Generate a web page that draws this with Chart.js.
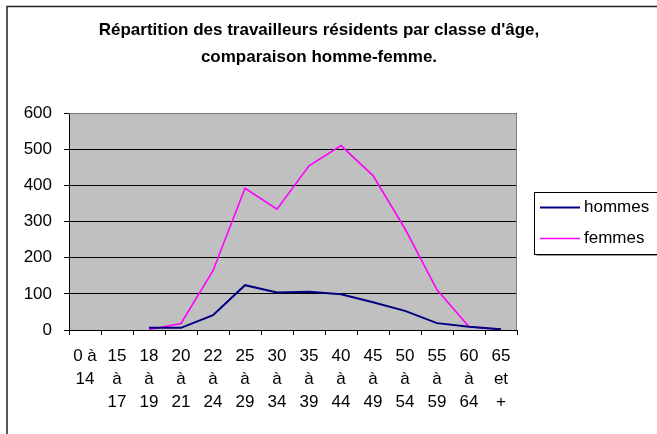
<!DOCTYPE html>
<html><head><meta charset="utf-8">
<script src="https://cdn.jsdelivr.net/npm/chart.js@4.4.1/dist/chart.umd.min.js"></script>
<style>html,body{margin:0;padding:0;background:#fff;}#wrap{width:657px;height:434px;}</style>
</head><body><div id="wrap"><canvas id="c" width="657" height="434"></canvas></div>
<script>
const categories = [["0 à","14"],["15","à","17"],["18","à","19"],["20","à","21"],["22","à","24"],["25","à","29"],["30","à","34"],["35","à","39"],["40","à","44"],["45","à","49"],["50","à","54"],["55","à","59"],["60","à","64"],["65","et","+"]];
const hommes = [null,null,6,6,41,124,104,106,99,77,53,19,9,2];
const femmes = [null,null,1,18,164,392,334,454,510,427,280,111,9,1];
const seriesNames = ["hommes","femmes"];
const seriesColors = ["#000080","#FF00FF"];
const yMin = 0, yMax = 600, yStep = 100;
const titleLines = ["Répartition des travailleurs résidents par classe d'âge,","comparaison homme-femme."];

const FONT = "'Liberation Sans', Arial, sans-serif";

const decorPlugin = {
  id: 'decor',
  beforeDraw(chart) {
    const {ctx, chartArea: a} = chart;
    ctx.save();
    ctx.fillStyle = '#fff';
    ctx.fillRect(0, 0, chart.width, chart.height);
    ctx.fillStyle = '#C0C0C0';
    ctx.fillRect(a.left, a.top, a.right - a.left, a.bottom - a.top);
    ctx.strokeStyle = '#222';
    ctx.lineWidth = 1.5;
    ctx.beginPath();
    ctx.moveTo(7, chart.height);
    ctx.lineTo(7, 6.5);
    ctx.lineTo(chart.width, 6.5);
    ctx.stroke();
    ctx.restore();
  },
  beforeDatasetsDraw(chart) {
    const {ctx, chartArea: a} = chart;
    ctx.save();
    ctx.strokeStyle = '#808080';
    ctx.lineWidth = 1;
    ctx.beginPath();
    ctx.moveTo(a.left, a.top + 0.5);
    ctx.lineTo(a.right - 0.5, a.top + 0.5);
    ctx.lineTo(a.right - 0.5, a.bottom);
    ctx.stroke();
    ctx.restore();
  },
  afterDraw(chart) {
    const ctx = chart.ctx;
    const left = 534.5, top = 192.5, h = 62;
    ctx.save();
    ctx.fillStyle = '#fff';
    ctx.fillRect(left, top, chart.width - left + 5, h);
    ctx.strokeStyle = '#000';
    ctx.lineWidth = 1;
    ctx.strokeRect(left, top, chart.width - left + 5, h);
    ctx.strokeStyle = '#999';
    ctx.beginPath();
    ctx.moveTo(left + 2, top + h + 1);
    ctx.lineTo(chart.width, top + h + 1);
    ctx.stroke();
    ctx.font = '17px ' + FONT;
    ctx.textBaseline = 'middle';
    ctx.textAlign = 'left';
    chart.data.datasets.forEach((ds, i) => {
      const y = top + 15 + i * 31;
      ctx.strokeStyle = ds.borderColor;
      ctx.lineWidth = ds.borderWidth;
      ctx.beginPath();
      ctx.moveTo(540, y);
      ctx.lineTo(580, y);
      ctx.stroke();
      ctx.fillStyle = '#000';
      ctx.fillText(ds.label, 584, y);
    });
    ctx.restore();
  }
};

new Chart(document.getElementById('c'), {
  type: 'line',
  data: {
    labels: categories,
    datasets: [
      {label: seriesNames[0], data: hommes, borderColor: seriesColors[0], backgroundColor: seriesColors[0], borderWidth: 2, pointRadius: 0, tension: 0, fill: false},
      {label: seriesNames[1], data: femmes, borderColor: seriesColors[1], backgroundColor: seriesColors[1], borderWidth: 1.6, pointRadius: 0, tension: 0, fill: false}
    ]
  },
  options: {
    responsive: false,
    animation: false,
    devicePixelRatio: 1,
    layout: {padding: {left: 0, right: 19, top: 0, bottom: 0}},
    plugins: {
      legend: {display: false},
      tooltip: {enabled: false},
      title: {
        display: true,
        text: titleLines,
        color: '#000',
        font: {family: FONT, size: 17, weight: 'bold', lineHeight: 1.59},
        padding: {top: 16.5, bottom: 42.5}
      }
    },
    scales: {
      x: {
        offset: true,
        grid: {display: true, drawOnChartArea: false, drawTicks: true, tickLength: 5, color: '#000', offset: true},
        border: {display: true, color: '#000', width: 1},
        ticks: {color: '#000', font: {family: FONT, size: 17, lineHeight: 1.35}, padding: 9.5, maxRotation: 0, autoSkip: false},
        afterFit(s) { s.height = 104; }
      },
      y: {
        min: yMin, max: yMax,
        grid: {color: '#000', lineWidth: 1, drawTicks: true, tickLength: 5},
        border: {display: true, color: '#000', width: 1},
        ticks: {stepSize: yStep, color: '#000', font: {family: FONT, size: 17}, padding: 12},
        afterFit(s) { s.width = 69; }
      },
      y2: {
        position: 'right',
        display: true,
        grid: {display: false},
        border: {display: false},
        ticks: {display: false},
        afterFit(s) { s.width = 121; }
      }
    }
  },
  plugins: [decorPlugin]
});
</script>
</body></html>
